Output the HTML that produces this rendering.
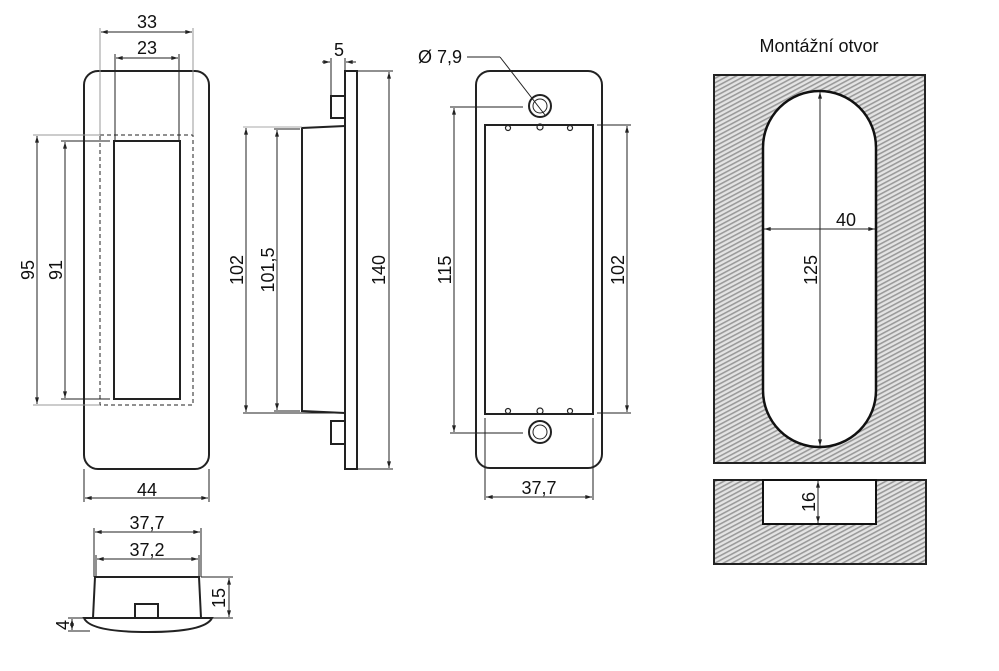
<!DOCTYPE html>
<html><head><meta charset="utf-8"><style>
html,body{margin:0;padding:0;background:#fff}
svg{display:block}
text{font-family:"Liberation Sans",Arial,sans-serif;font-size:18px;fill:#111}
</style></head><body>
<svg width="999" height="671" viewBox="0 0 999 671" xmlns="http://www.w3.org/2000/svg">
<defs>
<marker id="a" viewBox="0 0 10 6" refX="10" refY="3" markerWidth="7" markerHeight="4" orient="auto-start-reverse"><path d="M0,0L10,3L0,6z" fill="#222"/></marker>
<pattern id="h" width="7" height="4" patternUnits="userSpaceOnUse" patternTransform="rotate(-28)">
<rect width="7" height="4" fill="#e4e4e4"/><rect y="0" width="7" height="1.6" fill="#9a9a9a"/>
</pattern>
</defs>
<g fill="none" stroke="#222" stroke-width="1">
<rect x="84" y="71" width="125" height="398" rx="14" stroke-width="2"/>
<rect x="100" y="135" width="93" height="270" stroke-dasharray="4,3"/>
<rect x="114" y="141" width="66" height="258" stroke-width="2"/>
<line x1="100" y1="28" x2="100" y2="135" stroke="#999"/><line x1="193" y1="28" x2="193" y2="135" stroke="#999"/>
<line x1="101" y1="32" x2="192" y2="32" marker-start="url(#a)" marker-end="url(#a)"/>
<line x1="115" y1="54" x2="115" y2="141"/><line x1="179" y1="54" x2="179" y2="141"/>
<line x1="116" y1="58" x2="178" y2="58" marker-start="url(#a)" marker-end="url(#a)"/>
<line x1="33" y1="135" x2="100" y2="135" stroke="#999"/><line x1="33" y1="405" x2="100" y2="405" stroke="#999"/>
<line x1="37" y1="136" x2="37" y2="404" marker-start="url(#a)" marker-end="url(#a)"/>
<line x1="61" y1="141" x2="110" y2="141"/><line x1="61" y1="399" x2="110" y2="399"/>
<line x1="65" y1="142" x2="65" y2="398" marker-start="url(#a)" marker-end="url(#a)"/>
<line x1="84" y1="469" x2="84" y2="502"/><line x1="209" y1="469" x2="209" y2="502"/>
<line x1="85" y1="498" x2="208" y2="498" marker-start="url(#a)" marker-end="url(#a)"/>
<rect x="345" y="71" width="12" height="398" stroke-width="2"/>
<rect x="331" y="96" width="14" height="22" stroke-width="2"/>
<rect x="331" y="421" width="14" height="23" stroke-width="2"/>
<path d="M345,126 L302,128 L302,411 L345,413" stroke-width="2"/>
<line x1="243" y1="127" x2="302" y2="127" stroke="#aaa"/><line x1="243" y1="413" x2="345" y2="413"/>
<line x1="246" y1="128" x2="246" y2="412" marker-start="url(#a)" marker-end="url(#a)"/>
<line x1="274" y1="129" x2="300" y2="129"/><line x1="274" y1="411" x2="300" y2="411"/>
<line x1="277" y1="130" x2="277" y2="410" marker-start="url(#a)" marker-end="url(#a)"/>
<line x1="357" y1="71" x2="393" y2="71"/><line x1="357" y1="469" x2="393" y2="469"/>
<line x1="389" y1="72" x2="389" y2="468" marker-start="url(#a)" marker-end="url(#a)"/>
<line x1="331" y1="58" x2="331" y2="96"/><line x1="345" y1="58" x2="345" y2="71"/>
<line x1="322" y1="62" x2="330" y2="62" marker-end="url(#a)"/><line x1="356" y1="62" x2="346" y2="62" marker-end="url(#a)"/>
<rect x="476" y="71" width="126" height="397" rx="14" stroke-width="2"/>
<rect x="485" y="125" width="108" height="289" stroke-width="2"/>
<circle cx="540" cy="106" r="11" stroke-width="2"/><circle cx="540" cy="106" r="7"/>
<circle cx="540" cy="432" r="11" stroke-width="2"/><circle cx="540" cy="432" r="7"/>
<g stroke-width="1.2"><circle cx="508" cy="128" r="2.5"/><circle cx="540" cy="127" r="3"/><circle cx="570" cy="128" r="2.5"/>
<circle cx="508" cy="411" r="2.5"/><circle cx="540" cy="411" r="3"/><circle cx="570" cy="411" r="2.5"/></g>
<line x1="467" y1="57" x2="500" y2="57"/><line x1="500" y1="57" x2="545" y2="115"/>
<line x1="450" y1="107" x2="523" y2="107"/><line x1="450" y1="433" x2="523" y2="433"/>
<line x1="454" y1="108" x2="454" y2="432" marker-start="url(#a)" marker-end="url(#a)"/>
<line x1="597" y1="125" x2="631" y2="125"/><line x1="597" y1="413" x2="631" y2="413"/>
<line x1="627" y1="126" x2="627" y2="412" marker-start="url(#a)" marker-end="url(#a)"/>
<line x1="485" y1="418" x2="485" y2="500"/><line x1="593" y1="418" x2="593" y2="500"/>
<line x1="486" y1="497" x2="592" y2="497" marker-start="url(#a)" marker-end="url(#a)"/>
<path d="M95,577 L199,577 L201,618 L93,618 Z" stroke-width="2"/>
<rect x="135" y="604" width="23" height="14" stroke-width="2"/>
<path d="M84,618 L212,618 Q205,632 148,632 Q90,632 84,618 Z" stroke-width="2"/>
<line x1="94" y1="528" x2="94" y2="577"/><line x1="201" y1="528" x2="201" y2="577"/>
<line x1="95" y1="532" x2="200" y2="532" marker-start="url(#a)" marker-end="url(#a)"/>
<line x1="96" y1="555" x2="96" y2="577"/><line x1="199" y1="555" x2="199" y2="577"/>
<line x1="97" y1="559" x2="198" y2="559" marker-start="url(#a)" marker-end="url(#a)"/>
<line x1="201" y1="577" x2="233" y2="577"/><line x1="203" y1="618" x2="233" y2="618"/>
<line x1="229" y1="578" x2="229" y2="617" marker-start="url(#a)" marker-end="url(#a)"/>
<line x1="68" y1="618" x2="84" y2="618"/><line x1="68" y1="631" x2="90" y2="631"/>
<line x1="72" y1="619" x2="72" y2="630" marker-start="url(#a)" marker-end="url(#a)"/>
</g>
<rect x="714" y="75" width="211" height="388" fill="url(#h)" stroke="#222" stroke-width="2"/>
<rect x="763" y="91" width="113" height="356" rx="56.5" fill="#fff" stroke="#111" stroke-width="2.5"/>
<rect x="714" y="480" width="212" height="84" fill="url(#h)" stroke="#222" stroke-width="2"/>
<rect x="763" y="480" width="113" height="44" fill="#fff" stroke="#111" stroke-width="2"/>
<g fill="none" stroke="#222" stroke-width="1">
<line x1="820" y1="92" x2="820" y2="446" marker-start="url(#a)" marker-end="url(#a)"/>
<line x1="764" y1="229" x2="875" y2="229" marker-start="url(#a)" marker-end="url(#a)"/>
<line x1="818" y1="481" x2="818" y2="523" marker-start="url(#a)" marker-end="url(#a)"/>
</g>
<text x="147" y="28" text-anchor="middle">33</text>
<text x="147" y="54" text-anchor="middle">23</text>
<text transform="translate(34,270) rotate(-90)" text-anchor="middle">95</text>
<text transform="translate(62,270) rotate(-90)" text-anchor="middle">91</text>
<text x="147" y="496" text-anchor="middle">44</text>
<text x="339" y="56" text-anchor="middle">5</text>
<text transform="translate(243,270) rotate(-90)" text-anchor="middle">102</text>
<text transform="translate(274,270) rotate(-90)" text-anchor="middle">101,5</text>
<text transform="translate(385,270) rotate(-90)" text-anchor="middle">140</text>
<text x="418" y="63">Ø 7,9</text>
<text transform="translate(451,270) rotate(-90)" text-anchor="middle">115</text>
<text transform="translate(624,270) rotate(-90)" text-anchor="middle">102</text>
<text x="539" y="494" text-anchor="middle">37,7</text>
<text x="147" y="529" text-anchor="middle">37,7</text>
<text x="147" y="556" text-anchor="middle">37,2</text>
<text transform="translate(225,598) rotate(-90)" text-anchor="middle">15</text>
<text transform="translate(69,625) rotate(-90)" text-anchor="middle">4</text>
<text x="819" y="52" text-anchor="middle" style="font-size:18px">Montážní otvor</text>
<text x="846" y="226" text-anchor="middle">40</text>
<text transform="translate(817,270) rotate(-90)" text-anchor="middle">125</text>
<text transform="translate(815,502) rotate(-90)" text-anchor="middle">16</text>
</svg>
</body></html>
